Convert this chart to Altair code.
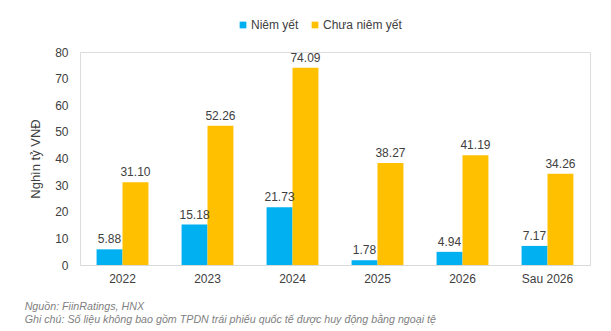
import altair as alt
import pandas as pd

years = ["2022", "2023", "2024", "2025", "2026", "Sau 2026"]
niem_yet = [5.88, 15.18, 21.73, 1.78, 4.94, 7.17]
chua_niem_yet = [31.10, 52.26, 74.09, 38.27, 41.19, 34.26]
series = ["Niêm yết", "Chưa niêm yết"]
colors = ["#00B0F0", "#FFC000"]
y_ticks = [0, 10, 20, 30, 40, 50, 60, 70, 80]

rows = []
for i, y in enumerate(years):
    rows.append({"year": y, "series": series[0], "value": niem_yet[i]})
    rows.append({"year": y, "series": series[1], "value": chua_niem_yet[i]})
df = pd.DataFrame(rows)

FONT = "Liberation Sans"

x = alt.X("year:N", sort=years, title=None,
          scale=alt.Scale(paddingInner=0.39, paddingOuter=0.195),
          axis=alt.Axis(labelAngle=0, ticks=False, domainColor="#D9D9D9",
                        labelColor="#404040", labelFontSize=12, labelFont=FONT,
                        labelPadding=8))
y = alt.Y("value:Q", title="Nghìn tỷ VNĐ",
          scale=alt.Scale(domain=[0, 80]),
          axis=alt.Axis(values=y_ticks, grid=False, domain=False,
                        ticks=False, labelOverlap=False, labelColor="#404040",
                        labelFontSize=12, labelFont=FONT, labelPadding=12,
                        titleFont=FONT, titleFontSize=13, titleFontWeight="normal",
                        titleColor="#404040", titlePadding=12))

base = alt.Chart(df).encode(
    x=x,
    y=y,
    xOffset=alt.XOffset("series:N", sort=series),
)

bars = base.mark_bar().encode(
    color=alt.Color("series:N", sort=series,
                    scale=alt.Scale(domain=series, range=colors),
                    legend=alt.Legend(title=None, orient="none", legendX=157, legendY=-33,
                                      direction="horizontal", symbolType="square",
                                      symbolSize=45, symbolStrokeWidth=0,
                                      labelFont=FONT, labelFontSize=12,
                                      labelColor="#404040", columnPadding=10,
                                      symbolOffset=0, labelOffset=2)),
)

labels = base.mark_text(dy=-10, font=FONT, fontSize=12, color="#404040").encode(
    text=alt.Text("value:Q", format=".2f"),
)

chart = alt.layer(bars, labels).properties(
    width=510, height=213,
    padding={"left": 80, "top": 52, "right": 21, "bottom": 66},
    autosize=alt.AutoSizeParams(type="none"),
    title=alt.TitleParams(
        text=["Nguồn: FiinRatings, HNX",
              "Ghi chú: Số liệu không bao gồm TPDN trái phiếu quốc tế được huy động bằng ngoại tệ"],
        orient="bottom", anchor="start", dx=-5, offset=18,
        font=FONT, fontSize=10.7, fontStyle="italic", fontWeight="normal",
        color="#7F7F7F", lineHeight=13),
).configure_view(stroke=None).configure(background="white")

chart.save("out.html", embed_options={"renderer": "svg", "actions": False})
